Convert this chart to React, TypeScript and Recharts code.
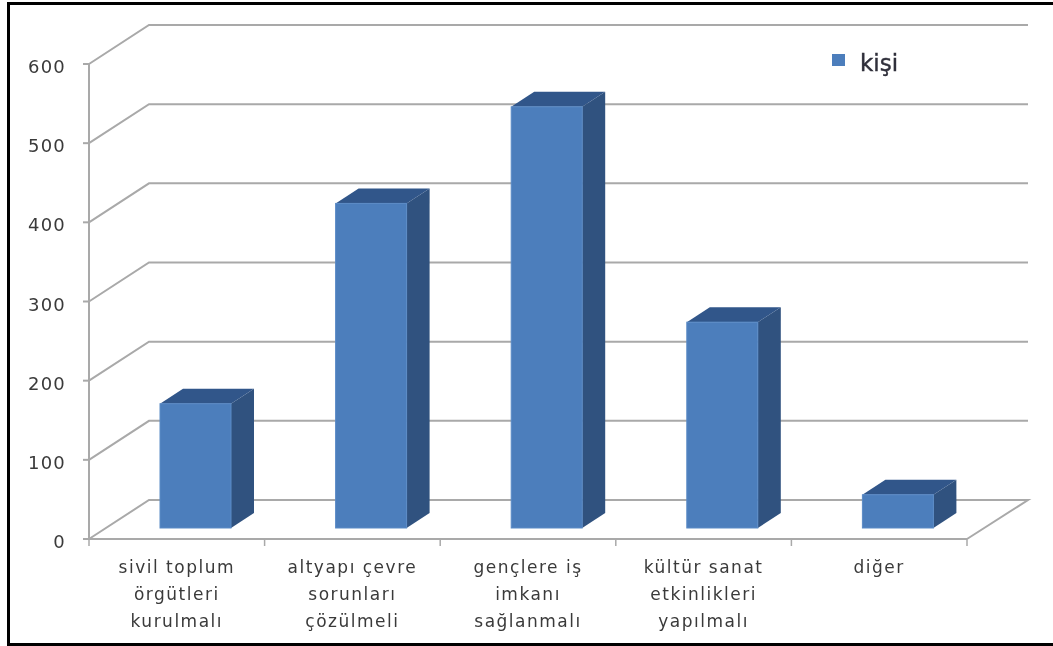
import React from "react";
import { BarChart, Bar, XAxis, YAxis, CartesianGrid, Legend } from "recharts";

// Values
const categories = [
  ["sivil toplum", "örgütleri", "kurulmalı"],
  ["altyapı çevre", "sorunları", "çözülmeli"],
  ["gençlere iş", "imkanı", "sağlanmalı"],
  ["kültür sanat", "etkinlikleri", "yapılmalı"],
  ["diğer"],
];
const kisi = [157, 410, 532, 260, 42];
const yTicks = [0, 100, 200, 300, 400, 500, 600];
const seriesName = "kişi";

const chartData = categories.map((lines, i) => ({
  name: lines.join(" "),
  kisi: kisi[i],
}));

// Fake 3D layout
const WIDTH = 1053;
const HEIGHT = 646;
const AXIS_LEFT = 89;
const AXIS_RIGHT = 967;
const AXIS_TOP = 64;
const AXIS_BOTTOM = 539;
const BAND = (AXIS_RIGHT - AXIS_LEFT) / categories.length;
const WALL_DX = 60;
const WALL_DY = 39;
const BAR_DX = 19;
const BAR_DY = 11;
const DEPTH_X = 23;
const DEPTH_Y = 15;

const FONT = "'DejaVu Sans', sans-serif";
const TEXT_COLOR = "#3a3a3a";
const LINE_COLOR = "#a9a9a9";

// Each gridline runs up the side wall, then along the back wall
const wallLine = (props: any) => {
  const { x1, x2, y1 } = props;
  const isFloor = Math.abs(y1 - AXIS_BOTTOM) < 1;
  const d =
    `M${x1},${y1} L${x1 + WALL_DX},${y1 - WALL_DY} L${x2 + WALL_DX + 1},${y1 - WALL_DY}` +
    (isFloor ? ` L${x2},${y1}` : "");
  return <path key={props.key ?? y1} d={d} fill="none" stroke={LINE_COLOR} strokeWidth={2} />;
};

const Bar3D = (props: any) => {
  const { x, y, width, height } = props;
  const left = x + BAR_DX;
  const right = left + width;
  const top = y - BAR_DY;
  const bottom = top + height;
  return (
    <g>
      <polygon
        points={`${right},${top} ${right + DEPTH_X},${top - DEPTH_Y} ${right + DEPTH_X},${bottom - DEPTH_Y} ${right},${bottom}`}
        fill="#30527f"
      />
      <polygon
        points={`${left},${top} ${left + DEPTH_X},${top - DEPTH_Y} ${right + DEPTH_X},${top - DEPTH_Y} ${right},${top}`}
        fill="#31568a"
      />
      <rect x={left} y={top} width={width} height={height} fill="#4c7ebc" stroke="#5b8bc6" strokeWidth={1} />
    </g>
  );
};

const CategoryTick = (props: any) => {
  const { x, y, index } = props;
  const lines = categories[index] ?? [];
  return (
    <g>
      <line x1={x - BAND / 2} x2={x - BAND / 2} y1={y - 8} y2={y - 1} stroke={LINE_COLOR} strokeWidth={1.5} />
      {index === categories.length - 1 && (
        <line x1={x + BAND / 2} x2={x + BAND / 2} y1={y - 8} y2={y - 1} stroke={LINE_COLOR} strokeWidth={1.5} />
      )}
      {lines.map((line: string, i: number) => (
        <text
          key={line}
          x={x}
          y={y + 26 + i * 27}
          textAnchor="middle"
          fontFamily={FONT}
          fontSize={17}
          letterSpacing={1.5}
          fill={TEXT_COLOR}
        >
          {line}
        </text>
      ))}
    </g>
  );
};

const ValueTick = (props: any) => {
  const { x, y, payload } = props;
  return (
    <text
      x={x - 15}
      y={y + 9}
      textAnchor="end"
      fontFamily={FONT}
      fontSize={18}
      letterSpacing={1.2}
      fill={TEXT_COLOR}
    >
      {payload.value}
    </text>
  );
};

const LegendContent = () => (
  <div style={{ position: "relative", height: 30 }}>
    <span style={{ position: "absolute", left: 0, top: 6, width: 13, height: 12, background: "#4c7ebc" }} />
    <span
      style={{
        position: "absolute",
        left: 28,
        top: 0,
        fontFamily: FONT,
        fontSize: 23,
        lineHeight: "30px",
        color: "#2f2f3a",
        WebkitTextStroke: "0.4px #2f2f3a",
      }}
    >
      {seriesName}
    </span>
  </div>
);

export default function App() {
  return (
    <div style={{ position: "absolute", left: 0, top: 0, width: WIDTH, height: HEIGHT, background: "#fff", overflow: "hidden" }}>
      <div
        style={{
          position: "absolute",
          left: 7,
          top: 2,
          width: WIDTH - 7,
          height: HEIGHT - 2,
          boxSizing: "border-box",
          borderLeft: "3px solid #000",
          borderTop: "3px solid #000",
          borderBottom: "3px solid #000",
        }}
      />
      <div style={{ position: "absolute", left: 0, top: 0, filter: "blur(0.5px)" }}>
        <BarChart
          width={WIDTH}
          height={HEIGHT}
          data={chartData}
          margin={{ top: AXIS_TOP, right: WIDTH - AXIS_RIGHT, left: AXIS_LEFT - 60, bottom: HEIGHT - AXIS_BOTTOM - 90 }}
          barSize={71}
        >
          <CartesianGrid vertical={false} horizontal={wallLine} />
          <XAxis
            dataKey="name"
            height={90}
            interval={0}
            tick={CategoryTick}
            tickLine={false}
            axisLine={{ stroke: LINE_COLOR, strokeWidth: 2 }}
          />
          <YAxis
            width={60}
            domain={[0, 600]}
            ticks={yTicks}
            tick={ValueTick}
            tickSize={6}
            tickLine={{ stroke: LINE_COLOR, strokeWidth: 2 }}
            axisLine={{ stroke: LINE_COLOR, strokeWidth: 2 }}
          />
          <Legend
            layout="vertical"
            align="center"
            verticalAlign="middle"
            wrapperStyle={{ left: 832, top: 48, width: 90 }}
            content={LegendContent}
          />
          <Bar dataKey="kisi" name={seriesName} shape={Bar3D} isAnimationActive={false} />
        </BarChart>
      </div>
    </div>
  );
}
